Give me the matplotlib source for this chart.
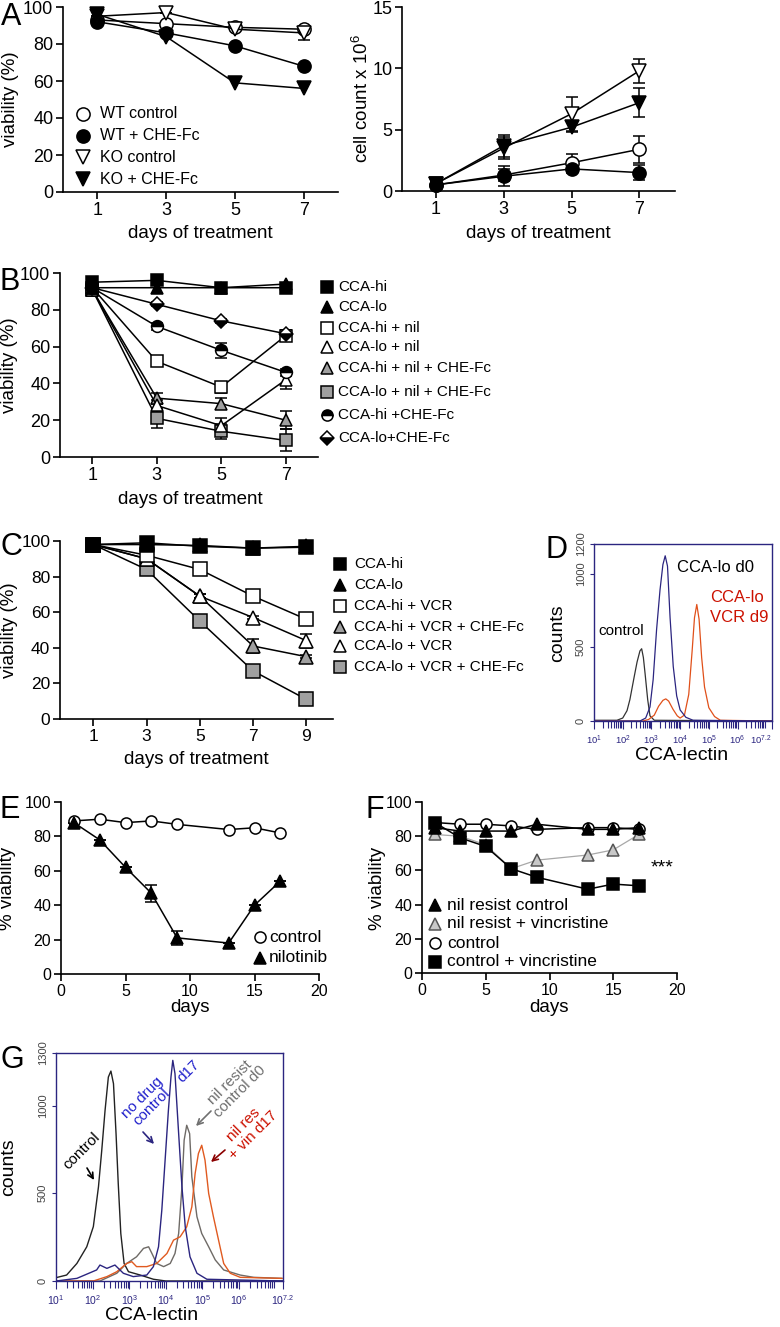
import numpy as np
import matplotlib
matplotlib.use('Agg')
import matplotlib.pyplot as plt
from matplotlib.ticker import LogLocator, NullFormatter

plt.rcParams['font.family'] = ['Liberation Sans', 'DejaVu Sans']
plt.rcParams['mathtext.fontset'] = 'custom'
plt.rcParams['mathtext.rm'] = 'Liberation Sans'
plt.rcParams['mathtext.it'] = 'Liberation Sans'

# ---------------- data ----------------
days_A = [1, 3, 5, 7]
A_via_wt_ctrl = [93, 91, 89, 88]
A_via_wt_che = [92, 86, 79, 68]
A_via_ko_ctrl = [95, 97, 88, 86]
A_via_ko_ctrl_err = [0, 0, 0, 4]
A_via_ko_che = [96, 84, 59, 56]

A_cnt_wt_ctrl = [0.5, 1.3, 2.3, 3.4]
A_cnt_wt_ctrl_err = [0.1, 0.5, 0.7, 1.1]
A_cnt_wt_che = [0.5, 1.2, 1.8, 1.5]
A_cnt_wt_che_err = [0.1, 0.8, 0.3, 0.6]
A_cnt_ko_ctrl = [0.6, 3.5, 6.3, 9.8]
A_cnt_ko_ctrl_err = [0.1, 0.9, 1.4, 1.0]
A_cnt_ko_che = [0.6, 3.7, 5.2, 7.2]
A_cnt_ko_che_err = [0.1, 0.9, 0.4, 1.2]

days_B = [1, 3, 5, 7]
B_hi = [95, 96, 92, 92]
B_lo = [92, 92, 92, 94]
B_hi_nil = [92, 52, 38, 66]
B_hi_nil_err = [1, 2, 3, 3]
B_lo_nil = [91, 28, 17, 42]
B_lo_nil_err = [1, 3, 4, 5]
B_hi_nil_che = [91, 32, 29, 20]
B_hi_nil_che_err = [1, 3, 3, 5]
B_lo_nil_che = [91, 21, 14, 9]
B_lo_nil_che_err = [1, 5, 4, 6]
B_hi_che = [92, 71, 58, 46]
B_hi_che_err = [1, 2, 4, 2]
B_lo_che = [92, 83, 74, 67]
B_lo_che_err = [1, 1, 1, 2]

days_C = [1, 3, 5, 7, 9]
C_hi = [98, 99, 97, 96, 96.5]
C_lo = [98, 98, 97.5, 96, 97]
C_hi_vcr = [98, 92, 84, 69, 56]
C_hi_vcr_che = [98, 90, 69, 41, 35]
C_hi_vcr_che_err = [0, 1, 1, 4, 1]
C_lo_vcr = [98, 90, 69, 57, 44]
C_lo_vcr_err = [0, 1, 1, 1, 4]
C_lo_vcr_che = [98, 84, 55, 27, 11]

days_E = [1, 3, 5, 7, 9, 13, 15, 17]
E_ctrl = [89, 90, 88, 89, 87, 84, 85, 82]
E_nil = [88, 78, 62, 47, 21, 18, 40, 54]
E_nil_err = [0, 0, 0, 5, 4, 0, 0, 0]

days_F = [1, 3, 5, 7, 9, 13, 15, 17]
F_nr_ctrl = [85, 83, 83, 83, 87, 84, 84, 85]
F_nr_vin = [81, 80, 75, 61, 66, 69, 72, 81]
F_ctrl = [88, 87, 87, 86, 84, 85, 85, 84]
F_ctrl_vin = [88, 79, 74, 61, 56, 49, 52, 51]

# flow histograms (log10 intensity, counts)
D_ctrl_log = [1.0, 1.8, 2.0, 2.15, 2.25, 2.4, 2.5, 2.6, 2.66, 2.72, 2.78, 2.87, 2.95, 3.1, 7.2]
D_ctrl_cnt = [5, 5, 20, 70, 145, 300, 400, 475, 490, 430, 320, 145, 35, 5, 0]
D_nav_log = [1.0, 2.6, 2.8, 2.95, 3.06, 3.18, 3.3, 3.4, 3.48, 3.56, 3.65, 3.76, 3.88, 4.0, 4.2, 4.45, 7.2]
D_nav_cnt = [0, 0, 20, 95, 280, 620, 890, 1060, 1120, 1050, 700, 370, 170, 75, 25, 5, 0]
D_red_log = [1.0, 2.7, 2.9, 3.1, 3.25, 3.4, 3.5, 3.6, 3.75, 3.9, 4.0, 4.15, 4.3, 4.42, 4.5, 4.58, 4.66, 4.75, 4.85, 5.0, 5.2, 5.4, 7.2]
D_red_cnt = [0, 0, 10, 40, 100, 140, 150, 135, 80, 35, 20, 40, 180, 480, 700, 790, 690, 430, 230, 90, 30, 5, 0]

G_ctrl_log = [1.0, 1.29, 1.57, 1.84, 2.02, 2.16, 2.25, 2.34, 2.43, 2.5, 2.57, 2.64, 2.7, 2.77, 2.86, 2.98, 3.3, 3.66, 4.0, 7.2]
G_ctrl_cnt = [19, 34, 100, 195, 310, 537, 746, 973, 1163, 1197, 1125, 840, 556, 271, 100, 53, 34, 10, 0, 0]
G_nav_log = [1.0, 1.57, 2.11, 2.2, 2.39, 2.61, 2.84, 3.11, 3.48, 3.66, 3.8, 3.89, 3.98, 4.07, 4.14, 4.19, 4.25, 4.35, 4.44, 4.53, 4.66, 4.85, 5.12, 7.2]
G_nav_cnt = [0, 15, 63, 91, 72, 91, 44, 25, 34, 82, 195, 404, 689, 973, 1163, 1258, 1182, 840, 537, 309, 138, 44, 10, 0]
G_gry_log = [1.0, 2.2, 2.66, 2.93, 3.2, 3.39, 3.53, 3.62, 3.75, 3.94, 4.12, 4.25, 4.35, 4.44, 4.5, 4.57, 4.65, 4.71, 4.85, 4.98, 5.17, 5.35, 5.58, 6.03, 6.4, 7.17]
G_gry_cnt = [0, 0, 44, 100, 138, 186, 195, 157, 100, 82, 100, 157, 271, 537, 803, 888, 840, 594, 366, 271, 195, 120, 63, 34, 21, 15]
G_red_log = [1.0, 2.02, 2.39, 2.66, 2.93, 3.07, 3.2, 3.48, 3.75, 4.03, 4.21, 4.39, 4.57, 4.71, 4.8, 4.89, 4.98, 5.07, 5.17, 5.3, 5.44, 5.58, 5.76, 6.03, 7.17]
G_red_cnt = [0, 0, 25, 53, 100, 110, 82, 82, 100, 157, 233, 252, 309, 423, 613, 727, 774, 689, 499, 366, 233, 100, 44, 21, 15]

# ---------------- figure ----------------
W, H = 780, 1327
fig = plt.figure(figsize=(7.8, 13.27), dpi=100)
NAVY = '#2b2580'
GRAY_FILL = '#a0a0a0'

def add_ax(x0, x1, y0, y1):
    return fig.add_axes([x0 / W, 1 - y1 / H, (x1 - x0) / W, (y1 - y0) / H])

def gp(ax, fs):
    ax.spines[['top', 'right']].set_visible(False)
    ax.spines[['left', 'bottom']].set_linewidth(1.2)
    ax.tick_params(axis='both', which='major', direction='out', length=5,
                   width=1.2, labelsize=fs, pad=2)
    ax.set_facecolor('none')

def series(ax, x, y, err=None, marker='o', mfc='black', ms=9, mec='black',
           color='black', lw=1.1, z=3, **kw):
    ax.errorbar(x, y, yerr=err, color=color, lw=lw, marker=marker, ms=ms,
                mfc=mfc, mec=mec, mew=1.1, ecolor='black', elinewidth=1.1,
                capsize=4.5, capthick=1.1, clip_on=False, zorder=z, **kw)

# ---- A left ----
ax = add_ax(63, 338, 7, 192)
gp(ax, 13)
series(ax, days_A, A_via_wt_ctrl, marker='o', mfc='white', ms=9.5)
series(ax, days_A, A_via_wt_che, marker='o', mfc='black', ms=9.5)
series(ax, days_A, A_via_ko_ctrl, A_via_ko_ctrl_err, marker='v', mfc='white', ms=9.5)
series(ax, days_A, A_via_ko_che, marker='v', mfc='black', ms=9.5)
ax.set_xlim(0, 8); ax.set_ylim(0, 100)
ax.set_xticks(days_A); ax.set_yticks([0, 20, 40, 60, 80, 100])

# ---- A right ----
ax = add_ax(402, 675, 7, 191)
gp(ax, 13)
series(ax, days_A, A_cnt_wt_ctrl, A_cnt_wt_ctrl_err, marker='o', mfc='white', ms=9.5)
series(ax, days_A, A_cnt_wt_che, A_cnt_wt_che_err, marker='o', mfc='black', ms=9.5)
series(ax, days_A, A_cnt_ko_ctrl, A_cnt_ko_ctrl_err, marker='v', mfc='white', ms=9.5)
series(ax, days_A, A_cnt_ko_che, A_cnt_ko_che_err, marker='v', mfc='black', ms=9.5)
ax.set_xlim(0, 8.05); ax.set_ylim(0, 15)
ax.set_xticks(days_A); ax.set_yticks([0, 5, 10, 15])

# ---- B ----
ax = add_ax(60, 318, 273, 457)
gp(ax, 13)
series(ax, days_B, B_lo_nil_che, B_lo_nil_che_err, marker='s', mfc=GRAY_FILL, ms=8)
series(ax, days_B, B_hi_nil_che, B_hi_nil_che_err, marker='^', mfc=GRAY_FILL, ms=8.5)
series(ax, days_B, B_lo_nil, B_lo_nil_err, marker='^', mfc='white', ms=8.5)
series(ax, days_B, B_hi_nil, B_hi_nil_err, marker='s', mfc='white', ms=8)
series(ax, days_B, B_hi_che, B_hi_che_err, marker='o', mfc='black', ms=8.5,
       fillstyle='top', markerfacecoloralt='white')
series(ax, days_B, B_lo_che, B_lo_che_err, marker='D', mfc='black', ms=7.5,
       fillstyle='bottom', markerfacecoloralt='white')
series(ax, days_B, B_lo, marker='^', mfc='black', ms=8.5)
series(ax, days_B, B_hi, marker='s', mfc='black', ms=8)
ax.set_xlim(0, 8); ax.set_ylim(0, 100)
ax.set_xticks(days_B); ax.set_yticks([0, 20, 40, 60, 80, 100])

# ---- C ----
ax = add_ax(60, 333, 541, 719)
gp(ax, 12.5)
series(ax, days_C, C_lo_vcr_che, marker='s', mfc=GRAY_FILL, ms=9.5)
series(ax, days_C, C_hi_vcr_che, C_hi_vcr_che_err, marker='^', mfc=GRAY_FILL, ms=9.5)
series(ax, days_C, C_lo_vcr, C_lo_vcr_err, marker='^', mfc='white', ms=9.5)
series(ax, days_C, C_hi_vcr, marker='s', mfc='white', ms=9.5)
series(ax, days_C, C_lo, marker='^', mfc='black', ms=9.5)
series(ax, days_C, C_hi, marker='s', mfc='black', ms=9.5)
ax.set_xlim(-0.25, 10); ax.set_ylim(0, 100)
ax.set_xticks(days_C); ax.set_yticks([0, 20, 40, 60, 80, 100])

# ---- flow helper ----
def flow(ax, ymax, yticks, xfs):
    ax.set_xscale('log')
    ax.set_xlim(10, 10 ** 7.2)
    ax.set_ylim(0, ymax)
    for s in ax.spines.values():
        s.set_color(NAVY); s.set_linewidth(1.0)
    ax.set_xticks([10.0 ** k for k in range(1, 7)] + [10 ** 7.2])
    ax.set_xticklabels([r'$10^{%d}$' % k for k in range(1, 7)] + [r'$10^{7.2}$'])
    ax.xaxis.set_minor_locator(LogLocator(base=10, subs=np.arange(2, 10), numticks=30))
    ax.xaxis.set_minor_formatter(NullFormatter())
    ax.tick_params(axis='x', which='major', color=NAVY, labelcolor=NAVY,
                   labelsize=xfs, length=6, width=0.8, pad=3)
    ax.tick_params(axis='x', which='minor', color=NAVY, length=5, width=0.8)
    ax.set_yticks(yticks)
    ax.set_yticklabels([str(t) for t in yticks], rotation=90, va='center')
    ax.tick_params(axis='y', color=NAVY, labelcolor='#444444', labelsize=8,
                   length=3, width=0.8, pad=3)
    ax.set_facecolor('none')

# ---- D ----
ax = add_ax(594, 772, 544, 721)
flow(ax, 1200, [0, 500, 1000, 1200], 6.8)
ax.get_xticklabels()[-1].set_ha('right')
ax.get_xticklabels()[-1].set_x(10 ** 7.33)
ax.plot(10 ** np.array(D_ctrl_log), D_ctrl_cnt, color='#333333', lw=0.9)
ax.plot(10 ** np.array(D_red_log), D_red_cnt, color='#e0501a', lw=0.9)
ax.plot(10 ** np.array(D_nav_log), D_nav_cnt, color=NAVY, lw=0.9)

# ---- E ----
ax = add_ax(61, 319, 802, 974)
gp(ax, 11.5)
series(ax, days_E, E_ctrl, marker='o', mfc='white', ms=8)
series(ax, days_E, E_nil, E_nil_err, marker='^', mfc='black', ms=9)
ax.set_xlim(0, 20); ax.set_ylim(0, 100)
ax.set_xticks([0, 5, 10, 15, 20]); ax.set_yticks([0, 20, 40, 60, 80, 100])

# ---- F ----
ax = add_ax(422, 677, 802, 973)
gp(ax, 11.5)
series(ax, days_F, F_nr_vin, marker='^', mfc='#c8c8c8', mec='#555555',
       color='#a8a8a8', lw=0.9, ms=8.5)
series(ax, days_F, F_ctrl, marker='o', mfc='white', ms=8)
series(ax, days_F, F_nr_ctrl, marker='^', mfc='black', ms=8.5)
series(ax, days_F, F_ctrl_vin, marker='s', mfc='black', ms=9, z=4)
ax.set_xlim(0, 20); ax.set_ylim(0, 100)
ax.set_xticks([0, 5, 10, 15, 20]); ax.set_yticks([0, 20, 40, 60, 80, 100])

# ---- G ----
ax = add_ax(56, 283, 1053, 1281)
flow(ax, 1300, [0, 500, 1000, 1300], 7.5)
ax.plot(10 ** np.array(G_ctrl_log), G_ctrl_cnt, color='#222222', lw=1.0)
ax.plot(10 ** np.array(G_gry_log), G_gry_cnt, color='#6e6a66', lw=1.0)
ax.plot(10 ** np.array(G_red_log), G_red_cnt, color='#e05a20', lw=1.0)
ax.plot(10 ** np.array(G_nav_log), G_nav_cnt, color=NAVY, lw=1.0)

# ---------------- overlay (labels, legends, letters) ----------------
ov = fig.add_axes([0, 0, 1, 1])
ov.set_xlim(0, W); ov.set_ylim(H, 0); ov.axis('off')

def T(x, y, s, fs=13, **kw):
    kw.setdefault('ha', 'center'); kw.setdefault('va', 'center')
    ov.text(x, y, s, fontsize=fs, **kw)

# panel letters
for lx, ly, L in [(1, 25, 'A'), (0, 290, 'B'), (0, 555, 'C'), (545, 558, 'D'),
                  (0, 818, 'E'), (366, 818, 'F'), (0, 1068, 'G')]:
    T(lx, ly, L, fs=22, ha='left', va='baseline')

# axis labels
T(11, 99, 'viability (%)', fs=13.5, rotation=90)
T(362, 99, r'cell count x 10$^{6}$', fs=13.5, rotation=90)
T(200, 233, 'days of treatment', fs=13.5)
T(538, 233, 'days of treatment', fs=13.5)
T(10, 365, 'viability (%)', fs=13.5, rotation=90)
T(190, 500, 'days of treatment', fs=13.5)
T(10, 630, 'viability (%)', fs=13.5, rotation=90)
T(196, 760, 'days of treatment', fs=13.5)
T(558, 633, 'counts', fs=14, rotation=90)
T(682, 755, 'CCA-lectin', fs=14)
T(8, 888, '% viability', fs=13.5, rotation=90)
T(190, 1008, 'days', fs=13.5)
T(377, 888, '% viability', fs=13.5, rotation=90)
T(549, 1008, 'days', fs=13.5)
T(9, 1167, 'counts', fs=14, rotation=90)
T(152, 1316, 'CCA-lectin', fs=14)

def leg(mx, tx, ys, items, fs):
    for y, (lab, mk) in zip(ys, items):
        ov.plot([mx], [y], clip_on=False, linestyle='none', **mk)
        T(tx, y, lab, fs=fs, ha='left')

def mk(marker, mfc, ms=9, mec='black', **kw):
    d = dict(marker=marker, mfc=mfc, ms=ms, mec=mec, mew=1.1)
    d.update(kw)
    return d

# legend A
leg(83, 100, [114, 136, 157, 179],
    [('WT control', mk('o', 'white', 9.5)), ('WT + CHE-Fc', mk('o', 'black', 9.5)),
     ('KO control', mk('v', 'white', 9.5)), ('KO + CHE-Fc', mk('v', 'black', 9.5))], 11.5)

# legend B
leg(327, 338, [287, 307, 328, 347, 368, 392, 415, 438],
    [('CCA-hi', mk('s', 'black', 8)), ('CCA-lo', mk('^', 'black', 8)),
     ('CCA-hi + nil', mk('s', 'white', 8)), ('CCA-lo + nil', mk('^', 'white', 8)),
     ('CCA-hi + nil + CHE-Fc', mk('^', GRAY_FILL, 8)),
     ('CCA-lo + nil + CHE-Fc', mk('s', GRAY_FILL, 8)),
     ('CCA-hi +CHE-Fc', mk('o', 'black', 8, fillstyle='top', markerfacecoloralt='white')),
     ('CCA-lo+CHE-Fc', mk('D', 'black', 7, fillstyle='bottom', markerfacecoloralt='white'))],
    11)

# legend C
leg(340, 354, [564, 585, 606, 627, 646, 667],
    [('CCA-hi', mk('s', 'black', 8)), ('CCA-lo', mk('^', 'black', 8)),
     ('CCA-hi + VCR', mk('s', 'white', 8)),
     ('CCA-hi + VCR + CHE-Fc', mk('^', GRAY_FILL, 8)),
     ('CCA-lo + VCR', mk('^', 'white', 8)),
     ('CCA-lo + VCR + CHE-Fc', mk('s', GRAY_FILL, 8))], 11)

# legend E
leg(260, 269, [937, 958],
    [('control', mk('o', 'white', 8)), ('nilotinib', mk('^', 'black', 9))], 12.5)

# legend F
leg(435, 447, [905, 924, 943, 962],
    [('nil resist control', mk('^', 'black', 8.5)),
     ('nil resist + vincristine', mk('^', '#c8c8c8', 8.5, mec='#555555')),
     ('control', mk('o', 'white', 8)),
     ('control + vincristine', mk('s', 'black', 8.5))], 12.5)

T(662, 868, '***', fs=14)

# D annotations
T(677, 568, 'CCA-lo d0', fs=12, ha='left')
T(710, 597, 'CCA-lo', fs=12, ha='left', color='#cc1100')
T(710, 617, 'VCR d9', fs=12, ha='left', color='#cc1100')
T(598, 631, 'control', fs=11, ha='left')

# G annotations
T(82, 1151, 'control', fs=11, rotation=45)
T(147, 1102, 'no drug\ncontrol', fs=11, rotation=45, color='#2222cc', linespacing=0.95)
T(189, 1071, 'd17', fs=11, rotation=45, color='#2222cc')
T(235, 1087, 'nil resist\ncontrol d0', fs=11, rotation=45, color='#707070', linespacing=0.95)
T(248, 1130, 'nil res\n+ vin d17', fs=11, rotation=45, color='#cc1100', linespacing=0.95)

def arrow(x0, y0, x1, y1, c):
    ov.annotate('', xy=(x1, y1), xytext=(x0, y0),
                arrowprops=dict(arrowstyle='->', color=c, lw=1.2, shrinkA=0, shrinkB=0))

arrow(87, 1168, 94, 1180, 'black')
arrow(143, 1132, 154, 1144, NAVY)
arrow(211, 1111, 196, 1126, '#707070')
arrow(225, 1150, 211, 1162, '#8b0000')

fig.savefig('out.png', dpi=100)
